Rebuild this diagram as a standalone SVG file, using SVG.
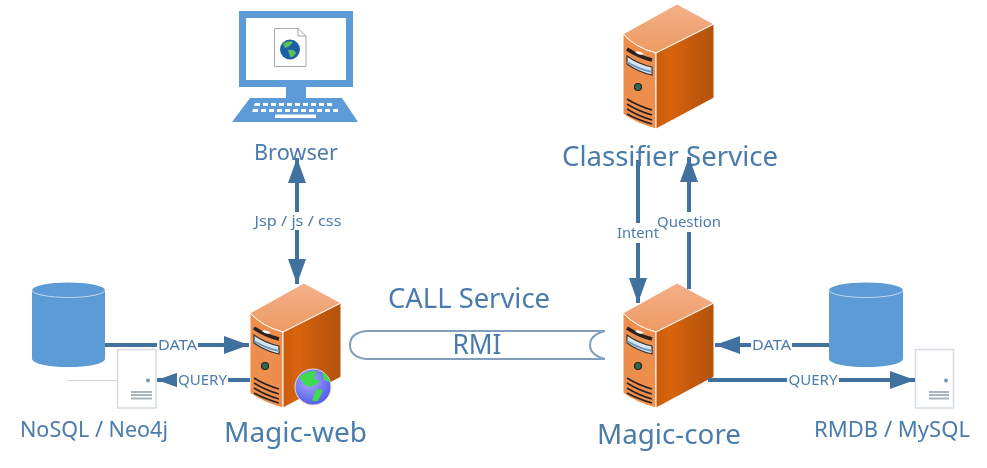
<svg xmlns="http://www.w3.org/2000/svg" xmlns:xlink="http://www.w3.org/1999/xlink" width="987" height="468" viewBox="0 0 987 468">
<style>
text{font-family:"Noto Sans","Open Sans","Liberation Sans",sans-serif;fill:#4A7BAC}
.big{font-size:27px;text-anchor:middle}
.mid{font-size:21px;text-anchor:middle}
.sm{font-size:14px;text-anchor:middle}
.cn{stroke:#41719F;stroke-width:4;fill:none}
.lb{fill:#fff;stroke:none}
.key{fill:#fff}
.vent{stroke:#2b2320;stroke-width:1.6;fill:none}
.cyl{fill:#5B9BD5}
.doc{fill:#fff;stroke:#D3DCE4;stroke-width:1.5}
.docl{stroke:#A9B4BE;stroke-width:2;fill:none}
g[id]{filter:url(#soft)}
defs g[id]{filter:none}
</style>
<defs>
<filter id="soft" x="-5%" y="-5%" width="110%" height="110%"><feGaussianBlur stdDeviation="0.4"/></filter>
<marker id="head" markerUnits="userSpaceOnUse" markerWidth="26" markerHeight="18" refX="25" refY="9" orient="auto-start-reverse"><path d="M0,0 L25,9 L0,18 Z" fill="#41719F"/></marker>
<linearGradient id="rf" x1="0" x2="1" y1="0" y2="0"><stop offset="0" stop-color="#C85C10"/><stop offset=".25" stop-color="#D9640F"/><stop offset=".6" stop-color="#C45A0E"/><stop offset="1" stop-color="#B4520C"/></linearGradient>
<linearGradient id="tf" x1="0" x2="0" y1="0" y2="1"><stop offset="0" stop-color="#F3B08A"/><stop offset="1" stop-color="#EE9A62"/></linearGradient>
<radialGradient id="g1" cx=".4" cy=".35" r=".7"><stop offset="0" stop-color="#A8A8FA"/><stop offset="1" stop-color="#4F57E8"/></radialGradient>
<g id="server">
<path d="M0,30 L54,0 L91,20 L33,49 Q13,44 0,30 Z" fill="url(#tf)" stroke="#fff" stroke-width="1"/>
<path d="M0,30 Q13,44 33,49 V125 Q14,120 0,110 Z" fill="#EE8E4E" stroke="#fff" stroke-width="1"/>
<path d="M33,49 L91,20 V94 L33,125 Z" fill="url(#rf)" stroke="#fff" stroke-width="1"/>
<path d="M4,45 Q16,53 29,56" stroke="#2b2320" stroke-width="3.500" fill="none"/>
<path d="M12,48 Q16,46 21,50 Q16,52 12,48Z" fill="#fff"/>
<path d="M4,52 Q15,60 29,63 V71 Q15,68 4,60 Z" fill="#D8E4EE" stroke="#3b3532" stroke-width="1.200"/>
<path d="M4,58 Q15,65 29,68" stroke="#6E98C0" stroke-width="2" fill="none"/>
<circle cx="15" cy="83" r="3.500" fill="#2F6B4F" stroke="#222" stroke-width="1.200"/>
<path class="vent" d="M4,95 Q15,102 29,106 M4,100 Q15,107 29,111 M4,105 Q15,112 29,116 M4,110 Q15,116 29,120"/>
</g>
</defs>

<g id="browser">
<rect x="242.500" y="14.500" width="107" height="69" fill="#fff" stroke="#5B9BD5" stroke-width="7"/>
<rect x="286" y="87" width="20" height="11" fill="#5B9BD5"/>
<path d="M250,98 H342 L358,122 H232 Z" fill="#5B9BD5"/>
<path class="key" d="M255,103h5v3h-6zM263,103h5v3h-5zM271,103h5v3h-5zM279,103h5v3h-5zM287,103h5v3h-5zM295,103h5v3h-5zM303,103h5v3h-5zM311,103h5v3h-5zM319,103h5v3h-5zM327,103h5v3h-5z"/>
<path class="key" d="M253,109h5v3h-6zM261,109h5v3h-5zM269,109h5v3h-5zM277,109h5v3h-5zM285,109h5v3h-5zM293,109h5v3h-5zM301,109h5v3h-5zM309,109h5v3h-5zM317,109h5v3h-5zM325,109h5v3h-5zM333,109h5v3h-5z"/>
<rect class="key" x="275" y="114.500" width="41" height="3.500"/>
<path d="M274.500,28.500 H298 L306,36 V66.500 H274.500 Z" fill="#fff" stroke="#A8A8A8"/>
<path d="M298,28.500 V36 H306" fill="none" stroke="#A8A8A8"/>
<circle cx="290" cy="49.500" r="10" fill="#1B5FA8"/>
<path d="M283,44 Q288,40 293,42 Q290,47 285,48 Z M288,50 Q294,49 296,53 Q293,58 290,57 Z" fill="#5FBF5A"/>
<text class="mid" x="296" y="160" textLength="84" lengthAdjust="spacingAndGlyphs">Browser</text>
</g>

<g id="classifier">
<use xlink:href="#server" href="#server" x="623" y="4"/>
<text class="big" x="670" y="166" textLength="216" lengthAdjust="spacingAndGlyphs">Classifier Service</text>
</g>

<g id="nosql-db">
<path class="cyl" d="M32,290 A36.500,7.500 0 0 1 105,290 V359 A36.500,8 0 0 1 32,359 Z"/>
<path d="M32,290 A36.500,7.500 0 0 0 105,290" fill="none" stroke="#BFD7EE" stroke-width="1"/>
</g>
<g id="nosql-server">
<path d="M67,380.500 H117" stroke="#D0D4D8" stroke-width="1.200"/>
<rect class="doc" x="117.500" y="349.500" width="38.500" height="58.500"/>
<circle cx="148" cy="380.500" r="2" fill="#6E98C0"/>
<path class="docl" d="M131,392 H152 M131,395 H152 M131,398.500 H152" stroke-width="1.600"/>
<text class="mid" x="94" y="437" textLength="148" lengthAdjust="spacingAndGlyphs">NoSQL / Neo4j</text>
</g>

<g id="magic-web">
<use xlink:href="#server" href="#server" x="250" y="283"/>
<circle cx="313" cy="387" r="18" fill="url(#g1)" stroke="#ddd" stroke-width="1"/>
<path d="M299,377 Q307,370 316,371 L314,378 L320,382 L311,387 L305,385 Z M316,389 L323,390 L318,401 L312,401 Z M322,372 Q328,375 330,382 L324,380 Z" fill="#3EDB4E"/>
<text class="big" x="295.500" y="442" textLength="143" lengthAdjust="spacingAndGlyphs">Magic-web</text>
</g>

<g id="magic-core">
<use xlink:href="#server" href="#server" x="623" y="283"/>
<text class="big" x="669" y="444" textLength="144" lengthAdjust="spacingAndGlyphs">Magic-core</text>
</g>

<g id="rmdb-db">
<path class="cyl" d="M829,290 A37,7.500 0 0 1 903,290 V359 A37,8 0 0 1 829,359 Z"/>
<path d="M829,290 A37,7.500 0 0 0 903,290" fill="none" stroke="#BFD7EE" stroke-width="1"/>
</g>
<g id="rmdb-server">
<rect class="doc" x="915.500" y="349.500" width="38" height="58.500"/>
<circle cx="946" cy="380.500" r="2" fill="#6E98C0"/>
<path class="docl" d="M929,392 H949 M929,395 H949 M929,398.500 H949" stroke-width="1.600"/>
<text class="mid" x="892" y="437" textLength="156" lengthAdjust="spacingAndGlyphs">RMDB / MySQL</text>
</g>

<g id="rmi">
<text class="big" x="469" y="308" font-size="25" textLength="162" lengthAdjust="spacingAndGlyphs">CALL Service</text>
<path d="M605,331 H366 Q350,333 350,345 Q350,357 366,359 H605 M605,331 Q590,335 590,345 Q590,355 605,359" fill="#fff" stroke="#7F9FBD" stroke-width="2"/>
<text class="big" x="477" y="354" textLength="49" lengthAdjust="spacingAndGlyphs">RMI</text>
</g>

<g id="connectors">
<path class="cn" d="M297,158 V284" marker-start="url(#head)" marker-end="url(#head)"/>
<rect class="lb" x="252" y="212" width="92" height="18"/>
<text class="sm" x="298" y="226" textLength="87" lengthAdjust="spacingAndGlyphs">Jsp / js / css</text>

<path class="cn" d="M105,345 H249" marker-end="url(#head)"/>
<rect class="lb" x="157" y="336" width="41" height="18"/>
<text class="sm" x="177.500" y="350" textLength="39" lengthAdjust="spacingAndGlyphs">DATA</text>

<path class="cn" d="M250,380 H157" marker-end="url(#head)"/>
<rect class="lb" x="177" y="371" width="51" height="18"/>
<text class="sm" x="202.500" y="385" textLength="49" lengthAdjust="spacingAndGlyphs">QUERY</text>

<path class="cn" d="M829,345 H715" marker-end="url(#head)"/>
<rect class="lb" x="751" y="336" width="41" height="18"/>
<text class="sm" x="771.500" y="350" textLength="39" lengthAdjust="spacingAndGlyphs">DATA</text>

<path class="cn" d="M708,380 H915" marker-end="url(#head)"/>
<rect class="lb" x="787" y="371" width="52" height="18"/>
<text class="sm" x="813" y="385" textLength="49" lengthAdjust="spacingAndGlyphs">QUERY</text>

<path class="cn" d="M689,289 V157" marker-end="url(#head)"/>
<rect class="lb" x="684" y="212" width="10" height="20"/>
<text class="sm" x="689" y="227" textLength="64" lengthAdjust="spacingAndGlyphs">Question</text>

<path class="cn" d="M638,160 V303" marker-end="url(#head)"/>
<rect class="lb" x="633" y="223" width="10" height="20"/>
<text class="sm" x="638" y="238" textLength="42" lengthAdjust="spacingAndGlyphs">Intent</text>
</g>
</svg>
